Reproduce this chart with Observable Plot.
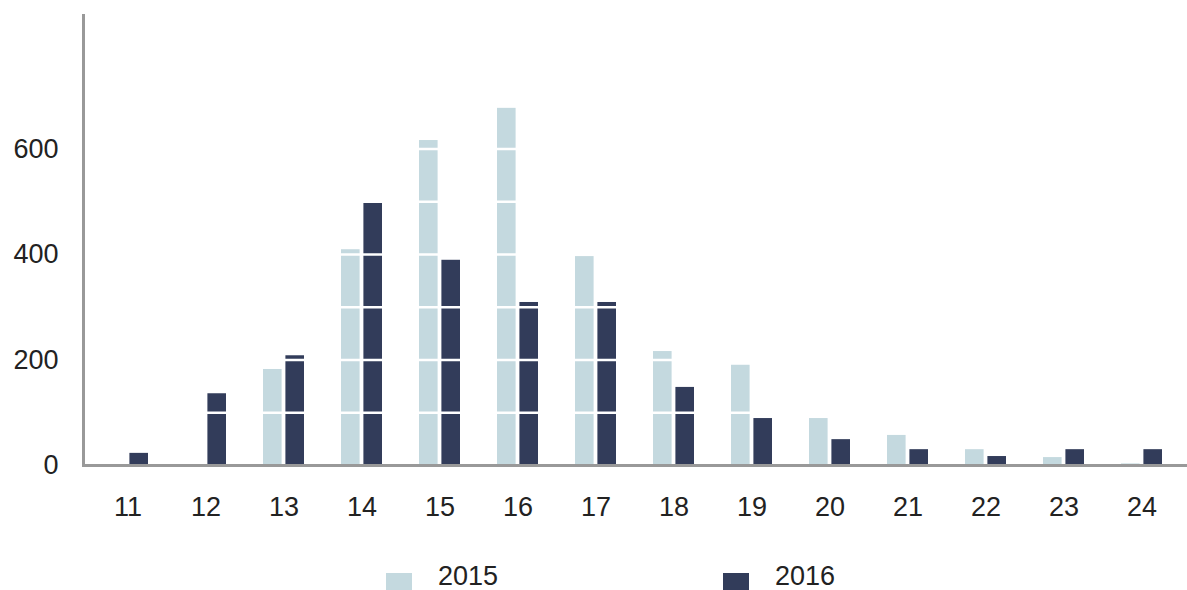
<!DOCTYPE html>
<html><head><meta charset="utf-8">
<script src="https://cdn.jsdelivr.net/npm/d3@7"></script>
<script src="https://cdn.jsdelivr.net/npm/@observablehq/plot@0.6"></script>
<style>
body{margin:0;background:#fff;font-family:"Liberation Sans",Arial,Helvetica,sans-serif;}
#legend{position:relative;height:50px;width:1187px;}
.sw{position:absolute;width:26px;height:18px;top:33px}
.lb{position:absolute;font-size:27px;top:23px;color:#222;line-height:1}
</style>
</head><body>
<div id="chart"></div>
<div id="legend"></div>
<script>
const categories = ["11","12","13","14","15","16","17","18","19","20","21","22","23","24"];
const v2015 = [0, 0, 182, 409, 616, 677, 396, 216, 190, 89, 57, 30, 15, 3];
const v2016 = [23, 136, 208, 497, 389, 309, 309, 148, 89, 49, 30, 17, 30, 30];
const yTicks = [0, 200, 400, 600];
const gridValues = [100, 200, 300, 400, 500, 600, 700, 800];
const seriesNames = ["2015", "2016"];
const colors = ["#c4d9df", "#323c5a"];

const W = 1187, H = 540, mL = 83, mR = 0, mT = 15, mB = 75;
const pIn = 0.47, pOut = pIn / 2;
const step = (W - mL - mR) / (categories.length - pIn + 2 * pOut);
const bw = step * (1 - pIn);
const gap = 3;
const half = (bw + gap) / 2;

const d15 = categories.map((c, i) => ({cat: c, value: v2015[i]}));
const d16 = categories.map((c, i) => ({cat: c, value: v2016[i]}));

const chart = Plot.plot({
  width: W, height: H,
  marginLeft: mL, marginRight: mR, marginTop: mT, marginBottom: mB,
  style: {fontFamily: '"Liberation Sans", Arial, Helvetica, sans-serif', fontSize: "27px", color: "#222", background: "white"},
  x: {domain: categories, paddingInner: pIn, paddingOuter: pOut, align: 0.5, label: null},
  y: {domain: [0, 853], label: null},
  marks: [
    Plot.barY(d15, {x: "cat", y: "value", fill: colors[0], insetRight: half}),
    Plot.barY(d16, {x: "cat", y: "value", fill: colors[1], insetLeft: half}),
    Plot.ruleY(gridValues, {stroke: "white", strokeWidth: 2.5}),
    Plot.axisY({ticks: yTicks, tickSize: 0, tickPadding: 25, label: null, tickFormat: d => String(d)}),
    Plot.axisX({tickSize: 0, tickPadding: 31, label: null}),
    Plot.ruleY([0], {stroke: "#999", strokeWidth: 3}),
    Plot.frame({anchor: "left", stroke: "#999", strokeWidth: 3})
  ]
});
document.getElementById("chart").appendChild(chart);

const legend = document.getElementById("legend");
const pos = [[386, 438], [723, 775]];
seriesNames.forEach((name, i) => {
  const s = document.createElement("div");
  s.className = "sw"; s.style.left = pos[i][0] + "px"; s.style.background = colors[i];
  legend.appendChild(s);
  const t = document.createElement("div");
  t.className = "lb"; t.style.left = pos[i][1] + "px"; t.textContent = name;
  legend.appendChild(t);
});
</script>
</body></html>
